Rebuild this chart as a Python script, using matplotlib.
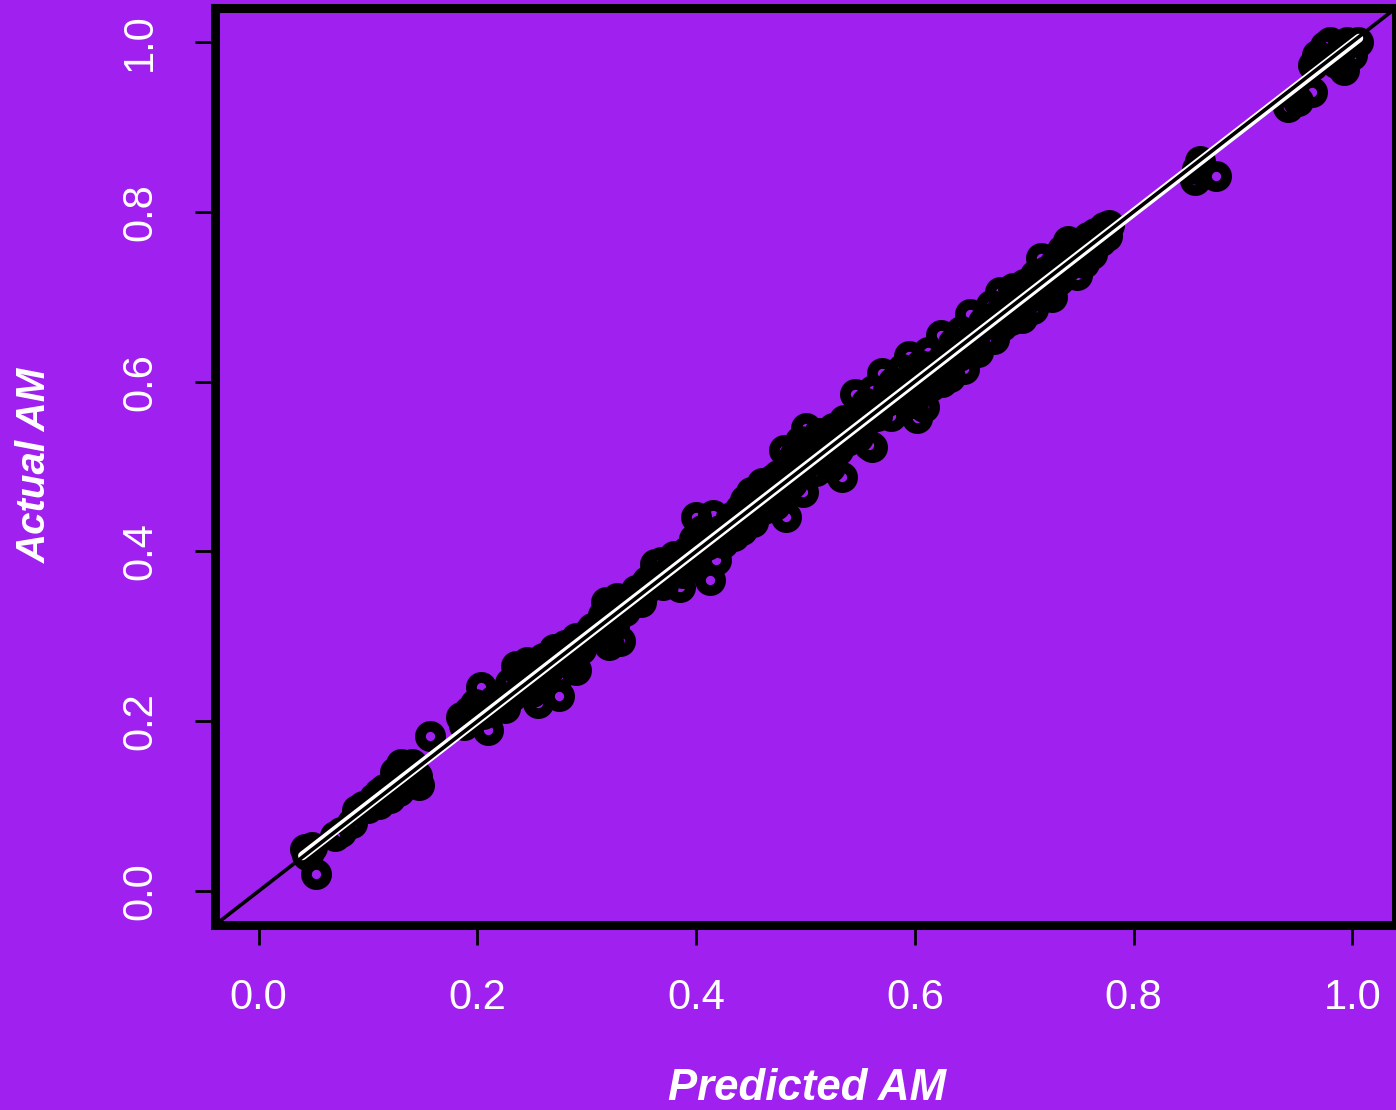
import matplotlib
matplotlib.use("Agg")
import matplotlib.pyplot as plt
import numpy as np

# ---- data ----
predicted = [
    0.042, 0.046, 0.049, 0.052, 0.044,
    0.070, 0.075, 0.085, 0.090, 0.095,
    0.100, 0.105, 0.110, 0.110, 0.115,
    0.120, 0.122, 0.125, 0.130, 0.128,
    0.135, 0.140, 0.138, 0.145, 0.147,
    0.157,
    0.185, 0.192, 0.210, 0.203, 0.198,
    0.215, 0.225, 0.230, 0.235, 0.240,
    0.245, 0.250, 0.255, 0.250, 0.260,
    0.265, 0.270, 0.275, 0.275, 0.280,
    0.285, 0.290, 0.290, 0.295, 0.300,
    0.305, 0.310, 0.315, 0.318, 0.320,
    0.325, 0.328, 0.330, 0.335,
    0.340, 0.345, 0.350, 0.355, 0.360,
    0.362, 0.368, 0.370, 0.375, 0.380,
    0.385, 0.388, 0.392, 0.395, 0.398,
    0.400, 0.405, 0.410, 0.413, 0.415,
    0.418, 0.420, 0.425, 0.430, 0.435,
    0.440, 0.442, 0.445, 0.448, 0.450,
    0.452, 0.455,
    0.460, 0.462, 0.465, 0.470, 0.472,
    0.475, 0.478, 0.480, 0.482, 0.485,
    0.488, 0.490, 0.492, 0.495, 0.498,
    0.500, 0.502, 0.505, 0.510, 0.512,
    0.515, 0.520, 0.522, 0.525, 0.530,
    0.533, 0.535, 0.538, 0.542, 0.545,
    0.548, 0.550, 0.553, 0.555, 0.558,
    0.561, 0.562, 0.565,
    0.570, 0.572, 0.575, 0.578, 0.580,
    0.585, 0.588, 0.590, 0.595, 0.598,
    0.600, 0.602, 0.605, 0.608, 0.610,
    0.612, 0.615, 0.620, 0.624, 0.625,
    0.630, 0.632, 0.635, 0.640, 0.642,
    0.645, 0.650, 0.652, 0.655, 0.658,
    0.662, 0.665, 0.670, 0.672, 0.675,
    0.678, 0.680, 0.685, 0.688, 0.690,
    0.695, 0.698, 0.700, 0.705, 0.708,
    0.710, 0.715, 0.718, 0.720, 0.725,
    0.728, 0.732, 0.735, 0.738, 0.740,
    0.745, 0.748, 0.750, 0.755, 0.758,
    0.762, 0.765, 0.770, 0.773, 0.776, 0.778,
    0.105, 0.118, 0.132, 0.142,
    0.188, 0.205, 0.220, 0.232, 0.242, 0.252, 0.262, 0.272, 0.282, 0.292,
    0.302, 0.312, 0.322, 0.332, 0.342, 0.352, 0.365, 0.378, 0.390, 0.402,
    0.412, 0.422, 0.432, 0.438, 0.446, 0.458, 0.468, 0.478, 0.486, 0.496,
    0.506, 0.516, 0.526, 0.536, 0.546, 0.556, 0.566, 0.576, 0.586, 0.596,
    0.606, 0.616, 0.626, 0.636, 0.646, 0.656, 0.666, 0.676, 0.686, 0.696,
    0.706, 0.716, 0.726, 0.736, 0.746, 0.756, 0.766, 0.774,
    0.856, 0.875, 0.861, 0.858,
    0.941, 0.963, 0.950,
    0.968, 0.992, 0.995, 1.005, 0.964, 0.980, 0.990, 1.000, 0.985, 0.975,
]
actual = [
    0.050, 0.046, 0.052, 0.020, 0.043,
    0.065, 0.070, 0.080, 0.095, 0.100,
    0.098, 0.110, 0.115, 0.102, 0.120,
    0.110, 0.125, 0.140, 0.150, 0.118,
    0.145, 0.150, 0.130, 0.135, 0.125,
    0.183,
    0.205, 0.212, 0.190, 0.240, 0.220,
    0.225, 0.215, 0.245, 0.265, 0.255,
    0.270, 0.250, 0.222, 0.235, 0.275,
    0.262, 0.285, 0.230, 0.255, 0.290,
    0.270, 0.298, 0.260, 0.285, 0.303,
    0.310, 0.300, 0.325, 0.340, 0.290,
    0.312, 0.345, 0.295, 0.330,
    0.345, 0.355, 0.340, 0.365, 0.370,
    0.385, 0.388, 0.360, 0.378, 0.395,
    0.358, 0.375, 0.400, 0.385, 0.415,
    0.440, 0.425, 0.408, 0.366, 0.443,
    0.390, 0.420, 0.410, 0.432, 0.418,
    0.450, 0.425, 0.460, 0.440, 0.470,
    0.435, 0.455,
    0.480, 0.450, 0.470, 0.485, 0.455,
    0.490, 0.470, 0.520, 0.440, 0.505,
    0.480, 0.515, 0.495, 0.530, 0.470,
    0.545, 0.505, 0.525, 0.495, 0.540,
    0.510, 0.530, 0.500, 0.545, 0.520,
    0.488, 0.555, 0.530, 0.545, 0.585,
    0.535, 0.565, 0.550, 0.575, 0.525,
    0.523, 0.590, 0.560,
    0.610, 0.575, 0.590, 0.560, 0.600,
    0.580, 0.615, 0.590, 0.630, 0.575,
    0.605, 0.557, 0.620, 0.570, 0.600,
    0.635, 0.595, 0.615, 0.655, 0.600,
    0.625, 0.605, 0.645, 0.630, 0.660,
    0.615, 0.680, 0.640, 0.655, 0.635,
    0.670, 0.650, 0.690, 0.650, 0.675,
    0.705, 0.665, 0.690, 0.672, 0.710,
    0.695, 0.675, 0.715, 0.700, 0.685,
    0.725, 0.745, 0.705, 0.730, 0.700,
    0.740, 0.720, 0.755, 0.735, 0.765,
    0.745, 0.725, 0.760, 0.740, 0.770,
    0.750, 0.775, 0.765, 0.782, 0.772, 0.785,
    0.105, 0.118, 0.135, 0.140,
    0.195, 0.208, 0.222, 0.230, 0.240, 0.255, 0.258, 0.270, 0.280, 0.290,
    0.300, 0.315, 0.320, 0.335, 0.340, 0.352, 0.362, 0.380, 0.388, 0.405,
    0.415, 0.425, 0.440, 0.435, 0.450, 0.460, 0.465, 0.480, 0.490, 0.495,
    0.510, 0.520, 0.525, 0.540, 0.550, 0.555, 0.570, 0.578, 0.590, 0.600,
    0.608, 0.618, 0.628, 0.638, 0.648, 0.660, 0.668, 0.680, 0.688, 0.700,
    0.710, 0.718, 0.728, 0.740, 0.750, 0.758, 0.768, 0.778,
    0.837, 0.842, 0.860, 0.850,
    0.923, 0.941, 0.930,
    0.985, 0.967, 1.000, 1.000, 0.973, 1.000, 0.990, 0.985, 0.975, 0.995,
]
fit_x = [0.040, 1.006]
fit_intercept = 0.0016
fit_slope = 0.9969
x_ticks = [0.0, 0.2, 0.4, 0.6, 0.8, 1.0]
y_ticks = [0.0, 0.2, 0.4, 0.6, 0.8, 1.0]
x_label = "Predicted AM"
y_label = "Actual AM"

BG = "#A020F0"
plt.rcParams["font.family"] = ["Liberation Sans", "DejaVu Sans"]

W, H, DPI = 1396, 1110, 100
fig = plt.figure(figsize=(W / DPI, H / DPI), dpi=DPI, facecolor=BG)
ax = fig.add_axes([215 / W, (H - 925) / H, (1396 - 215) / W, (925 - 8) / H])
ax.set_facecolor(BG)

ax.plot(predicted, actual, linestyle="none", marker="o", markersize=14.5,
        markerfacecolor="none", markeredgecolor="black", markeredgewidth=7.8,
        zorder=2)

fx = np.array(fit_x)
ax.plot(fx, fit_intercept + fit_slope * fx, color="white", linewidth=6.4,
        solid_capstyle="round", zorder=3)
ax.axline((0, 0), slope=1, color="black", linewidth=2.6, zorder=4)

ax.set_xlim(-0.04, 1.04)
ax.set_ylim(-0.04, 1.04)
ax.set_xticks(x_ticks)
ax.set_yticks(y_ticks)
ax.set_xticklabels([f"{v:.1f}" for v in x_ticks])
ax.set_yticklabels([f"{v:.1f}" for v in y_ticks], rotation=90, va="center")
ax.tick_params(axis="both", direction="out", length=14.5, width=2.0,
               color="black", labelcolor="white", labelsize=30)
ax.tick_params(axis="x", pad=24)
ax.tick_params(axis="y", pad=25)

for s in ax.spines.values():
    s.set_linewidth(6.5)
    s.set_color("black")
    s.set_capstyle("projecting")

fig.text(807 / W, 1 - 1088 / H, x_label, color="white", fontsize=31.5,
         fontweight="bold", fontstyle="italic", ha="center", va="center")
fig.text(35 / W, 1 - 465 / H, y_label, color="white", fontsize=29,
         fontweight="bold", fontstyle="italic", ha="center", va="center",
         rotation=90)

fig.savefig("out.png", dpi=DPI, facecolor=BG)
